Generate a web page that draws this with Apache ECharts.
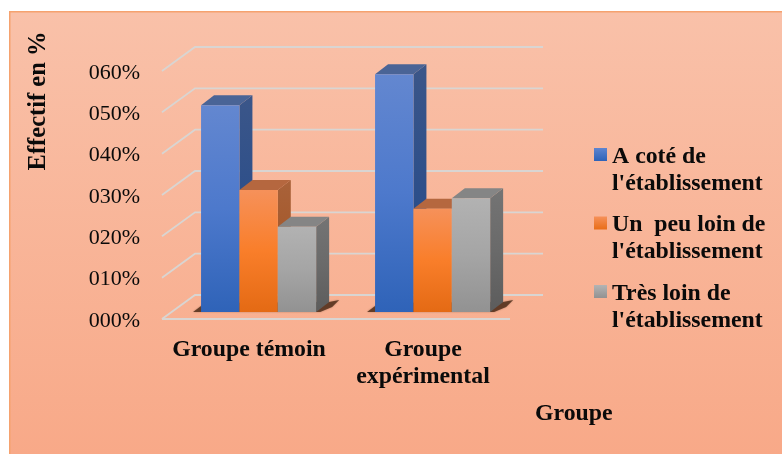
<!DOCTYPE html>
<html>
<head>
<meta charset="utf-8">
<style>
  html, body { margin: 0; padding: 0; background: #fff; }
  #chart { width: 782px; height: 454px; }
</style>
<script src="https://cdn.jsdelivr.net/npm/echarts@6/dist/echarts.min.js"></script>
</head>
<body>
<div id="chart"></div>
<script>
// valeurs
var categories = ['Groupe témoin', 'Groupe\nexpérimental'];
var seriesNames = ["A coté de\nl'établissement", "Un  peu loin de\nl'établissement", "Très loin de\nl'établissement"];
var procheValues = [50, 57.5];
var peuLoinValues = [29.5, 25];
var tresLoinValues = [20.6, 27.5];
var yTicks = [0, 10, 20, 30, 40, 50, 60];
var allValues = [procheValues, peuLoinValues, tresLoinValues];

var serif = '"Liberation Serif", "Times New Roman", serif';
var fontSize = 23.8;

// profondeur du mur et des barres (pseudo 3D)
var wallDx = 33, wallDy = 24;
var barOffX = 9.6, barOffY = 7;
var barDx = 13, barDy = 10;
var barBand = 0.2205;

function vGrad(a, b, c) {
    return {
        type: 'linear', x: 0, y: 0, x2: 0, y2: 1,
        colorStops: [{ offset: 0, color: a }, { offset: 0.5, color: b }, { offset: 1, color: c }]
    };
}

var colors = [
    { front: vGrad('#6387d0', '#4d79cc', '#2f63b8'), side: vGrad('#3b5689', '#2d4f8a', '#234a8a'), top: '#4a6496', legend: ['#5f85d0', '#2f63b8'] },
    { front: vGrad('#f6915a', '#f97e2a', '#e46a14'), side: vGrad('#a9623a', '#a5582a', '#9a4f20'), top: '#b5673f', legend: ['#f6915a', '#e96e18'] },
    { front: vGrad('#b2b2b2', '#a5a5a5', '#929292'), side: vGrad('#747474', '#6a6a6a', '#5c5c5c'), top: '#858585', legend: ['#b4b4b4', '#929292'] }
];

function renderWall(params, api) {
    var cs = params.coordSys;
    var y = api.coord([0, api.value(1)])[1];
    var left = cs.x, right = cs.x + cs.width;
    var pts = [[left, y], [left + wallDx, y - wallDy], [right + wallDx, y - wallDy]];
    var children = [{
        type: 'polyline',
        shape: { points: pts },
        style: { fill: 'none', stroke: '#d9d5d2', lineWidth: 1.8 }
    }];
    // plancher : ligne avant
    if (api.value(1) === 0) {
        children.push({
            type: 'line',
            shape: { x1: left, y1: y, x2: right, y2: y },
            style: { stroke: '#d9d5d2', lineWidth: 1.8 }
        });
    }
    return { type: 'group', children: children };
}

function renderShadow(params, api) {
    var c = api.coord([api.value(0), 0]);
    var band = api.size([1, 0])[0];
    var cx = c[0] + barOffX;
    var y = c[1] - barOffY;
    var l = cx - band * barBand * 1.5;
    var r = cx + band * barBand * 1.5;
    return {
        type: 'polygon',
        shape: { points: [[l - 8, y], [l + 4, y - 9], [r + 13, y - 10], [r + 23, y - 12], [r + 16, y - 5], [r + 4, y]] },
        style: { fill: 'rgba(84,48,28,0.85)', shadowBlur: 2, shadowColor: 'rgba(84,48,28,0.5)' }
    };
}

function renderBar(idx) {
    return function (params, api) {
        var top = api.coord([api.value(0), api.value(1)]);
        var base = api.coord([api.value(0), 0]);
        var band = api.size([1, 0])[0];
        var w = band * barBand;
        var x = top[0] + barOffX + (idx - 1.5) * w;
        var yt = top[1] - barOffY;
        var yb = base[1] - barOffY;
        return {
            type: 'group',
            children: [
                {
                    type: 'polygon',
                    shape: { points: [[x + w, yt], [x + w + barDx, yt - barDy], [x + w + barDx, yb - barDy], [x + w, yb]] },
                    style: { fill: colors[idx].side }
                },
                {
                    type: 'polygon',
                    shape: { points: [[x, yt], [x + barDx, yt - barDy], [x + w + barDx, yt - barDy], [x + w, yt]] },
                    style: { fill: colors[idx].top }
                },
                {
                    type: 'rect',
                    shape: { x: x, y: yt, width: w, height: yb - yt },
                    style: { fill: colors[idx].front }
                }
            ]
        };
    };
}

var barSeries = seriesNames.map(function (name, i) {
    return {
        name: name,
        type: 'custom',
        renderItem: renderBar(i),
        encode: { x: 0, y: 1 },
        z: 5,
        data: allValues[i].map(function (v, k) { return [k, v]; })
    };
});

var option = {
    backgroundColor: '#ffffff',
    animation: false,
    tooltip: { show: false },
    graphic: [
        {
            type: 'rect',
            z: -10,
            shape: { x: 10, y: 11, width: 772, height: 443 },
            style: {
                fill: {
                    type: 'linear', x: 0, y: 0, x2: 0, y2: 1,
                    colorStops: [{ offset: 0, color: '#f9c1a9' }, { offset: 1, color: '#f8a988' }]
                }
            }
        },
        { type: 'rect', z: -9, shape: { x: 9, y: 11, width: 1.5, height: 443 }, style: { fill: '#f5a26f' } },
        { type: 'rect', z: -9, shape: { x: 9, y: 11, width: 773, height: 1.5 }, style: { fill: '#f5a26f' } }
    ],
    grid: { left: 162, right: 272, top: 71, bottom: 135 },
    legend: {
        data: seriesNames.map(function (name, i) {
            return {
                name: name,
                // carré aligné sur la première ligne du texte
                icon: 'path://M0 0zM0 5h13v13h-13zM0 54z',
                itemStyle: {
                    color: {
                        type: 'linear', x: 0, y: 0, x2: 0, y2: 1,
                        colorStops: [
                            { offset: 0.09, color: colors[i].legend[0] },
                            { offset: 0.33, color: colors[i].legend[1] }
                        ]
                    }
                }
            };
        }),
        orient: 'vertical',
        left: 589,
        top: 138,
        itemWidth: 13,
        itemHeight: 54,
        itemGap: 14.5,
        align: 'left',
        selectedMode: false,
        textStyle: {
            fontFamily: serif,
            fontWeight: 'bold',
            fontSize: fontSize,
            lineHeight: 27,
            color: '#0a0a0a'
        }
    },
    xAxis: {
        type: 'category',
        data: categories,
        name: 'Groupe',
        nameLocation: 'end',
        nameGap: 25,
        nameTextStyle: {
            fontFamily: serif,
            fontWeight: 'bold',
            fontSize: fontSize,
            color: '#0a0a0a',
            verticalAlign: 'top',
            padding: [83, 0, 0, 0]
        },
        axisLine: { show: false },
        axisTick: { show: false },
        axisLabel: {
            fontFamily: serif,
            fontWeight: 'bold',
            fontSize: fontSize,
            lineHeight: 27,
            color: '#0a0a0a',
            margin: 17,
            verticalAlign: 'top',
            interval: 0
        }
    },
    yAxis: {
        type: 'value',
        min: 0,
        max: 60,
        interval: 10,
        name: 'Effectif en %',
        nameLocation: 'middle',
        nameGap: 111,
        nameTextStyle: {
            fontFamily: serif,
            fontWeight: 'bold',
            fontSize: 24.5,
            color: '#0a0a0a',
            padding: [0, 0, 0, 188]
        },
        axisLine: { show: false },
        axisTick: { show: false },
        splitLine: { show: false },
        axisLabel: {
            fontFamily: serif,
            fontSize: 22,
            color: '#0a0a0a',
            margin: 22,
            verticalAlign: 'top',
            lineHeight: 4,
            formatter: function (v) { return ('000' + v).slice(-3) + '%'; }
        }
    },
    series: [
        {
            type: 'custom',
            renderItem: renderWall,
            encode: { x: 0, y: 1 },
            silent: true,
            z: 1,
            data: yTicks.map(function (v) { return [0, v]; })
        },
        {
            type: 'custom',
            renderItem: renderShadow,
            encode: { x: 0, y: 1 },
            silent: true,
            z: 2,
            data: categories.map(function (c, k) { return [k, 0]; })
        }
    ].concat(barSeries)
};

var chart = echarts.init(document.getElementById('chart'));
chart.setOption(option);
</script>
</body>
</html>
